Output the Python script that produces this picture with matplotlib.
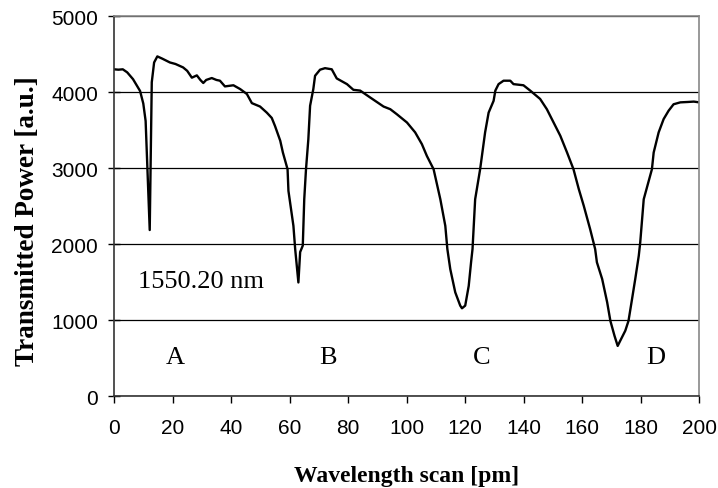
import matplotlib.pyplot as plt

# wavelength scan [pm] vs transmitted power [a.u.]
scan_pm = [
    0.0, 1.5, 3.0, 4.5, 6.5, 8.9, 10.0, 10.8, 11.5, 12.2, 12.6, 12.9, 13.7, 14.8,
    16.5, 19.1, 21.0, 23.6, 25.0, 26.6, 28.3, 29.5, 30.5, 31.5, 33.4, 35.0, 36.2,
    37.9, 40.8, 43.1, 45.4, 47.1, 49.9, 52.2, 53.9, 55.0, 56.8, 57.7, 59.3, 59.6,
    61.3, 61.9, 63.0, 63.6, 64.5, 65.0, 65.6, 66.4, 67.0, 68.1, 68.7, 70.4, 72.1,
    74.4, 76.1, 79.6, 81.8, 84.1, 87.5, 92.1, 94.4, 96.6, 100.1, 102.9, 105.2,
    106.9, 109.2, 111.5, 113.2, 113.9, 114.9, 116.6, 118.3, 118.9, 120.0, 121.2,
    122.0, 122.5, 123.4, 125.1, 126.8, 128.0, 129.7, 130.3, 131.4, 133.1, 135.4,
    136.5, 139.9, 142.2, 145.6, 147.9, 150.2, 152.5, 154.8, 157.0, 158.8, 160.5,
    162.7, 164.4, 165.0, 166.8, 168.5, 169.6, 171.0, 172.1, 173.0, 174.7, 175.8,
    177.0, 178.1, 179.3, 179.8, 181.0, 182.7, 183.8, 184.4, 186.1, 187.8, 189.5,
    191.2, 193.5, 196.0, 198.1, 200.0,
]
power_au = [
    4300, 4295, 4300, 4260, 4170, 4015, 3850, 3620, 2900, 2185, 3300, 4130, 4390,
    4470, 4440, 4390, 4370, 4325, 4280, 4190, 4220, 4160, 4120, 4160, 4185, 4160,
    4150, 4075, 4090, 4040, 3975, 3855, 3810, 3730, 3660, 3555, 3360, 3205, 2985,
    2700, 2240, 1935, 1495, 1895, 1980, 2590, 2985, 3380, 3820, 4040, 4215, 4295,
    4315, 4300, 4180, 4105, 4030, 4020, 3930, 3810, 3775, 3710, 3600, 3470, 3315,
    3160, 2985, 2590, 2240, 1935, 1670, 1365, 1190, 1155, 1190, 1450, 1760, 1935,
    2590, 2985, 3470, 3730, 3885, 4020, 4105, 4150, 4150, 4105, 4090, 4020, 3910,
    3775, 3600, 3425, 3205, 2985, 2725, 2505, 2195, 1935, 1760, 1540, 1235, 990,
    795, 660, 730, 860, 990, 1275, 1540, 1845, 2020, 2590, 2830, 2985, 3205, 3470,
    3645, 3755, 3840, 3865, 3870, 3875, 3865,
]

dip_labels = ["A", "B", "C", "D"]
dip_label_x = [20.9, 73.0, 125.7, 185.0]
dip_label_y = 513
note_text = "1550.20 nm"

serif = ["Liberation Serif", "DejaVu Serif"]
sans = ["Liberation Sans", "DejaVu Sans"]

fig = plt.figure(figsize=(7.18, 4.89), dpi=100)
ax = fig.add_axes([0.1588, 0.188, 0.8152, 0.777])

ax.plot(scan_pm, power_au, color="black", linewidth=1.7)

ax.set_xlim(0, 200)
ax.set_ylim(0, 5000)
ax.set_xticks(range(0, 201, 20))
ax.set_yticks(range(0, 5001, 1000))
ax.grid(axis="y", color="black", linewidth=0.9)
ax.set_axisbelow(True)

for side in ("left", "bottom"):
    ax.spines[side].set_color("#333333")
    ax.spines[side].set_linewidth(1.2)
for side in ("top", "right"):
    ax.spines[side].set_color("#888888")
    ax.spines[side].set_linewidth(1.2)

ax.tick_params(axis="x", direction="out", length=5, width=1, pad=11, labelsize=15)
ax.tick_params(axis="y", direction="inout", length=9, width=1, pad=7, labelsize=15)
for lab in ax.get_xticklabels() + ax.get_yticklabels():
    lab.set_family(sans)

for name, x in zip(dip_labels, dip_label_x):
    ax.text(x, dip_label_y, name, ha="center", va="center", fontsize=19, family=serif)
ax.text(8.2, 1513, note_text, ha="left", va="center", fontsize=19, family=serif)

ax.set_xlabel("Wavelength scan [pm]", fontsize=17, fontweight="bold", family=serif, labelpad=20)
ax.set_ylabel("Transmitted Power [a.u.]", fontsize=19.5, fontweight="bold", family=serif)
# the label sits a little below the axis centre in the reference
ax.yaxis.set_label_coords(-0.126, 0.463)

fig.savefig("out.png", dpi=100)
